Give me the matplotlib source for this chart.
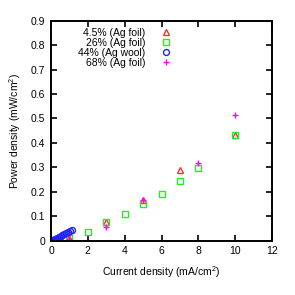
import matplotlib
matplotlib.use("Agg")
import matplotlib.pyplot as plt

plt.rcParams['font.family'] = ['Liberation Sans', 'DejaVu Sans']
plt.rcParams['mathtext.fontset'] = 'custom'
plt.rcParams['mathtext.rm'] = 'Liberation Sans'

# 4.5% (Ag foil)
x45 = [1, 3, 5, 7, 10]
y45 = [0.012, 0.078, 0.168, 0.288, 0.434]
# 26% (Ag foil)
x26 = [0, 1, 2, 3, 4, 5, 6, 7, 8, 10]
y26 = [0.0, 0.012, 0.036, 0.076, 0.109, 0.150, 0.193, 0.244, 0.299, 0.432]
# 44% (Ag wool)
x44 = [0.02, 0.05, 0.08, 0.12, 0.16, 0.2, 0.25, 0.3, 0.36, 0.42, 0.48, 0.55,
       0.62, 0.69, 0.83, 0.94, 1.05, 1.14]
y44 = [0.0005, 0.001, 0.002, 0.003, 0.004, 0.006, 0.008, 0.010, 0.012, 0.014,
       0.017, 0.020, 0.023, 0.026, 0.030, 0.034, 0.038, 0.043]
# 68% (Ag foil)
x68 = [1, 3, 5, 8, 10]
y68 = [0.008, 0.055, 0.165, 0.318, 0.513]

labels = ['4.5% (Ag foil)', '26% (Ag foil)', '44% (Ag wool)', '68% (Ag foil)']
xticks = [0, 2, 4, 6, 8, 10, 12]
yticks = [0, 0.1, 0.2, 0.3, 0.4, 0.5, 0.6, 0.7, 0.8, 0.9]
ytick_labels = ['0', '0.1', '0.2', '0.3', '0.4', '0.5', '0.6', '0.7', '0.8', '0.9']

fig = plt.figure(figsize=(2.95, 2.95), dpi=100)
ax = fig.add_axes([0.173, 0.184, 0.749, 0.746])

ax.plot(x45, y45, linestyle='none', marker='^', markersize=4.4, markerfacecolor='none',
        markeredgecolor='#ff3030', markeredgewidth=1.0, label=labels[0])
ax.plot(x26, y26, linestyle='none', marker='s', markersize=4.6, markerfacecolor='none',
        markeredgecolor='#22ee22', markeredgewidth=1.0, label=labels[1])
ax.plot(x44, y44, linestyle='none', marker='o', markersize=4.3, markerfacecolor='none',
        markeredgecolor='#2222ff', markeredgewidth=1.0, label=labels[2])
ax.plot(x68, y68, linestyle='none', marker='+', markersize=5, markeredgecolor='#ff00ff',
        markeredgewidth=1.0, label=labels[3])

ax.set_xlim(0, 12)
ax.set_ylim(0, 0.9)
ax.set_xticks(xticks)
ax.set_xticklabels([str(v) for v in xticks])
ax.set_yticks(yticks)
ax.set_yticklabels(ytick_labels)
ax.tick_params(direction='in', length=4, width=1.2, top=True, right=True,
               labelsize=7.5, pad=4)
for s in ax.spines.values():
    s.set_linewidth(1.4)

ax.set_xlabel('Current density (mA/cm$^2$)', fontsize=7.5, labelpad=6)
ax.set_ylabel('Power density (mW/cm$^2$)', fontsize=7.5, labelpad=6)

leg = ax.legend(loc='upper right', bbox_to_anchor=(0.583, 1.0), frameon=False,
                markerfirst=False, alignment='right', fontsize=7.5,
                handlelength=1.2, handletextpad=1.4, labelspacing=0.0,
                borderaxespad=0.3)

fig.savefig('out.png', dpi=100)
